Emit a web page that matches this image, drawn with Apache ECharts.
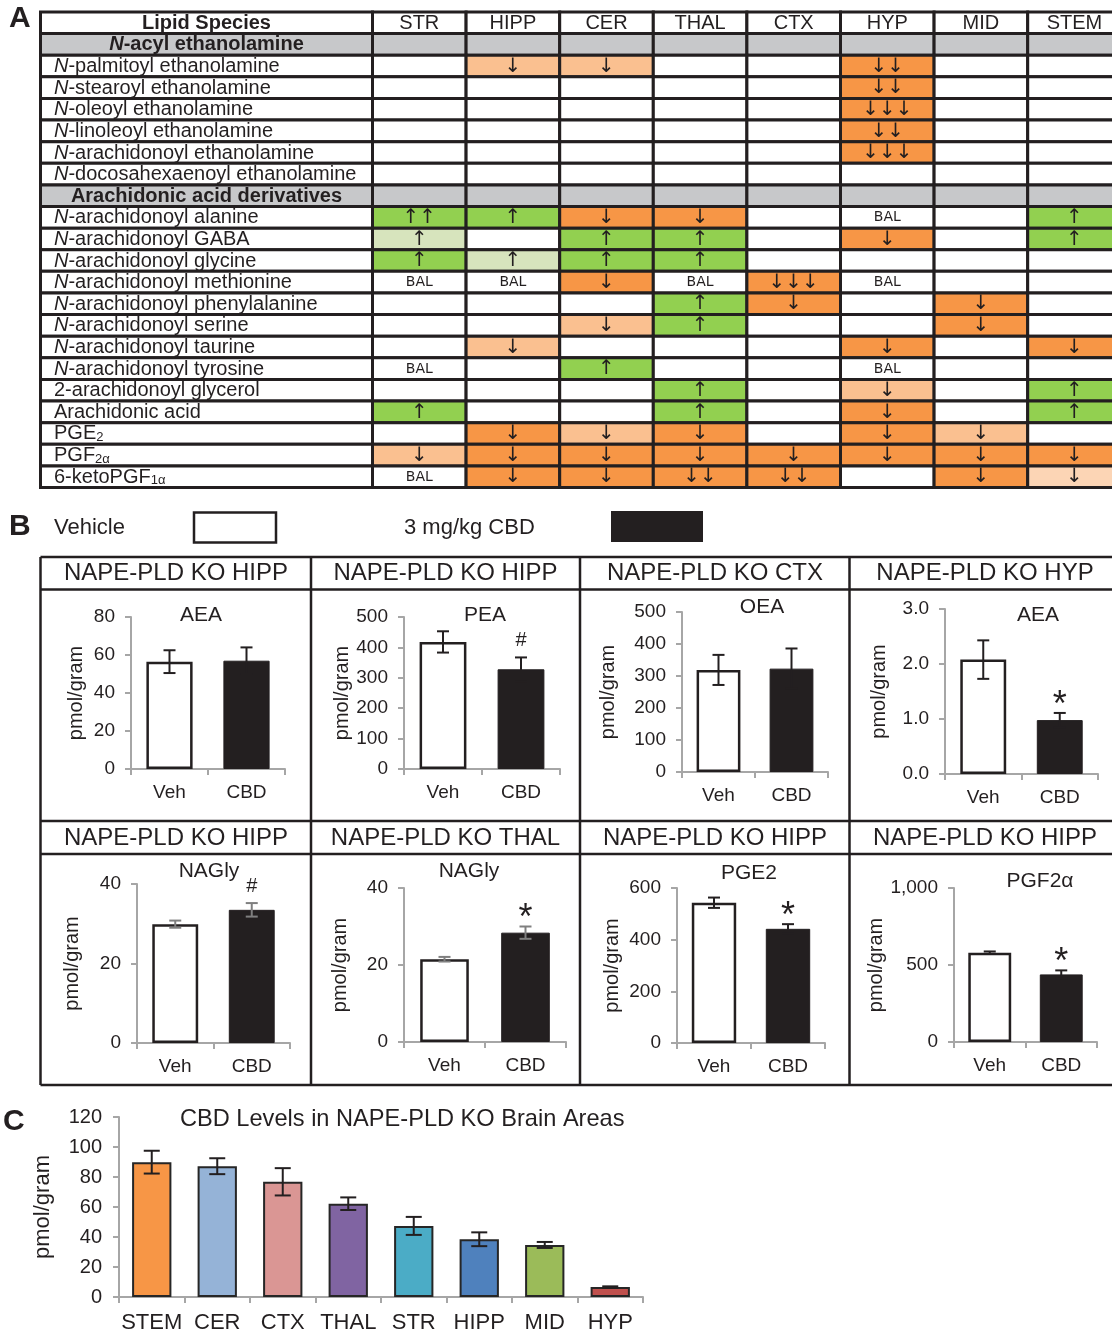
<!DOCTYPE html>
<html>
<head>
<meta charset="utf-8">
<title>NAPE-PLD KO lipid changes and CBD levels</title>
<script src="https://cdn.jsdelivr.net/npm/echarts@6.0.0/dist/echarts.min.js"></script>
</head>
<body style="margin:0;background:#fff">
<div id="main" style="width:1112px;height:1338px"></div>
<script type="text/javascript">
var FONT = '"Liberation Sans", Arial, Helvetica, sans-serif';
var INK = '#231f20';
var AXIS_GRAY = '#a6a6a6';

// ---------- panel A : direction of change per region ----------
var regions = ['STR', 'HIPP', 'CER', 'THAL', 'CTX', 'HYP', 'MID', 'STEM'];
var lipidRows = [
    'Lipid Species',
    'N-acyl ethanolamine',
    'N-palmitoyl ethanolamine',
    'N-stearoyl ethanolamine',
    'N-oleoyl ethanolamine',
    'N-linoleoyl ethanolamine',
    'N-arachidonoyl ethanolamine',
    'N-docosahexaenoyl ethanolamine',
    'Arachidonic acid derivatives',
    'N-arachidonoyl alanine',
    'N-arachidonoyl GABA',
    'N-arachidonoyl glycine',
    'N-arachidonoyl methionine',
    'N-arachidonoyl phenylalanine',
    'N-arachidonoyl serine',
    'N-arachidonoyl taurine',
    'N-arachidonoyl tyrosine',
    '2-arachidonoyl glycerol',
    'Arachidonic acid',
    'PGE_2',
    'PGF_2α',
    '6-ketoPGF_1α'
];
var sectionRows = ['N-acyl ethanolamine', 'Arachidonic acid derivatives'];
// O = strong decrease, o = decrease, p = weak decrease, G = strong increase, g = increase, B = BAL
// digit = number of arrows
var changes = [
    ['',   'o1', 'o1', '',   '',   'O2', '',   ''  ],
    ['',   '',   '',   '',   '',   'O2', '',   ''  ],
    ['',   '',   '',   '',   '',   'O3', '',   ''  ],
    ['',   '',   '',   '',   '',   'O2', '',   ''  ],
    ['',   '',   '',   '',   '',   'O3', '',   ''  ],
    ['',   '',   '',   '',   '',   '',   '',   ''  ],
    ['G2', 'G1', 'O1', 'O1', '',   'B',  '',   'G1'],
    ['g1', '',   'G1', 'G1', '',   'O1', '',   'G1'],
    ['G1', 'g1', 'G1', 'G1', '',   '',   '',   ''  ],
    ['B',  'B',  'O1', 'B',  'O3', 'B',  '',   ''  ],
    ['',   '',   '',   'G1', 'O1', '',   'O1', ''  ],
    ['',   '',   'o1', 'G1', '',   '',   'O1', ''  ],
    ['',   'o1', '',   '',   '',   'O1', '',   'O1'],
    ['B',  '',   'G1', '',   '',   'B',  '',   ''  ],
    ['',   '',   '',   'G1', '',   'o1', '',   'G1'],
    ['G1', '',   '',   'G1', '',   'O1', '',   'G1'],
    ['',   'O1', 'o1', 'O1', '',   'O1', 'o1', ''  ],
    ['o1', 'O1', 'O1', 'O1', 'O1', 'O1', 'O1', 'O1'],
    ['B',  'O1', 'O1', 'O2', 'O2', '',   'O1', 'p1']
];

// ---------- panel B : Veh vs CBD ----------
var bGroups = ['Veh', 'CBD'];
var bHeadings = ['NAPE-PLD KO HIPP', 'NAPE-PLD KO HIPP', 'NAPE-PLD KO CTX', 'NAPE-PLD KO HYP',
                 'NAPE-PLD KO HIPP', 'NAPE-PLD KO THAL', 'NAPE-PLD KO HIPP', 'NAPE-PLD KO HIPP'];
var bAnalytes = ['AEA', 'PEA', 'OEA', 'AEA', 'NAGly', 'NAGly', 'PGE2', 'PGF2α'];
var bMeans  = [[56.5, 57], [418, 328], [319, 323], [2.08, 0.98], [29.9, 33.5], [21.5, 28.4], [543, 442], [580, 439]];
var bErrors = [[6, 7], [35, 39], [47, 63], [0.35, 0.13], [0.9, 1.7], [0.6, 1.6], [20, 18], [8, 26]];
var bMarks  = [['', ''], ['', '#'], ['', ''], ['', '*'], ['', '#'], ['', '*'], ['', '*'], ['', '*']];
var bYMax  = [80, 500, 500, 3, 40, 40, 600, 1000];
var bYStep = [20, 100, 100, 1, 20, 20, 200, 500];

// ---------- panel C : CBD levels ----------
var cbdAreas  = ['STEM', 'CER', 'CTX', 'THAL', 'STR', 'HIPP', 'MID', 'HYP'];
var cbdMeans  = [89.9, 87.2, 76.8, 62.2, 47.4, 38.5, 34.7, 6.6];
var cbdErrors = [7.6, 5.3, 9.1, 4.2, 6.0, 4.6, 2.0, 0.5];

// styles / layout
var changeColors = {O: '#f79646', o: '#fac090', p: '#fcd5b5', G: '#92d050', g: '#d7e4bd', B: '#ffffff'};
var SECTION_GRAY = '#c7c8ca';
var cbdColors = ['#f79646', '#95b3d7', '#da9694', '#8064a2', '#4bacc6', '#4f81bd', '#9bbb59', '#c0504d'];
var COL_W = 93.6;   // width of one region column in panel A
var bLayout = [
    {left: 131, top: 617, width: 154, height: 152, nameGap: 45, titleX: 201, titleY: 617},
    {left: 404, top: 617, width: 156, height: 152, nameGap: 51, titleX: 485, titleY: 617},
    {left: 682, top: 612, width: 146, height: 160, nameGap: 64, titleX: 762, titleY: 609},
    {left: 945, top: 609, width: 153, height: 165, nameGap: 56, titleX: 1038, titleY: 617},
    {left: 137, top: 884, width: 153, height: 159, nameGap: 55, titleX: 209, titleY: 873},
    {left: 404, top: 888, width: 162, height: 154, nameGap: 54, titleX: 469, titleY: 873},
    {left: 677, top: 888, width: 148, height: 155, nameGap: 55, titleX: 749, titleY: 875},
    {left: 954, top: 888, width: 143, height: 154, nameGap: 63, titleX: 1040, titleY: 883}
];
var bErrColor = [INK, INK, INK, INK, '#7f7f7f', '#7f7f7f', INK, INK];

var bodyIndex = {};
(function () {
    var k = 0;
    lipidRows.forEach(function (n, i) {
        if (i > 0 && sectionRows.indexOf(n) < 0) bodyIndex[i] = k++;
    });
})();

var lipidRich = {
    t:  {fontSize: 20, fontFamily: FONT, fill: INK},
    i:  {fontSize: 20, fontFamily: FONT, fill: INK, fontStyle: 'italic'},
    s:  {fontSize: 13, fontFamily: FONT, fill: INK, verticalAlign: 'bottom'},
    b:  {fontSize: 20, fontFamily: FONT, fill: INK, fontWeight: 'bold'},
    bi: {fontSize: 20, fontFamily: FONT, fill: INK, fontWeight: 'bold', fontStyle: 'italic'}
};

function lipidText(name, bold) {
    var m = name.match(/^(.*)_(.*)$/);
    if (m) return '{t|' + m[1] + '}{s|' + m[2] + '}';
    if (name.indexOf('N-') === 0) return bold ? '{bi|N}{b|' + name.slice(1) + '}' : '{i|N}{t|' + name.slice(1) + '}';
    return bold ? '{b|' + name + '}' : '{t|' + name + '}';
}

function labelCell(r) {
    var name = lipidRows[r];
    if (r === 0) return {fill: '#ffffff', text: lipidText(name, true), center: true};
    if (sectionRows.indexOf(name) >= 0) return {fill: SECTION_GRAY, text: lipidText(name, true), center: true};
    return {fill: '#ffffff', text: lipidText(name, false), center: false};
}

function regionCell(r, c) {
    if (r === 0) return {fill: '#ffffff', text: regions[c], size: 20, family: FONT};
    if (sectionRows.indexOf(lipidRows[r]) >= 0) return {fill: SECTION_GRAY};
    var code = changes[bodyIndex[r]][c];
    if (!code) return {fill: '#ffffff'};
    if (code === 'B') return {fill: '#ffffff', text: 'BAL', size: 14, family: '"DejaVu Sans", sans-serif'};
    var level = code.charAt(0), n = +code.charAt(1);
    var arrow = (level === 'G' || level === 'g') ? '\u2191' : '\u2193';
    return {fill: changeColors[level], text: new Array(n + 1).join(arrow), size: 20, family: '"DejaVu Sans", sans-serif'};
}

function tableRenderer(isLabelCol) {
    return function (params, api) {
        var c = api.value(0), r = api.value(1);
        var p = api.coord([c, r]), s = api.size([1, 1]);
        var x0 = p[0] - s[0] / 2, y0 = p[1] - s[1] / 2;
        var cell = isLabelCol ? labelCell(r) : regionCell(r, c);
        var kids = [{
            type: 'rect',
            shape: {x: x0, y: y0, width: s[0], height: s[1]},
            style: {fill: cell.fill, stroke: INK, lineWidth: 3}
        }];
        if (cell.text) {
            var st = {
                text: cell.text, y: p[1] + 0.5, verticalAlign: 'middle', fill: INK
            };
            if (isLabelCol) {
                st.rich = lipidRich;
                st.x = cell.center ? p[0] : x0 + 13.5;
                st.align = cell.center ? 'center' : 'left';
            } else {
                st.x = p[0];
                st.align = 'center';
                st.fontSize = cell.size;
                st.fontFamily = cell.family;
            }
            kids.push({type: 'text', style: st});
        }
        return {type: 'group', children: kids};
    };
}

function errorRenderer(color, capW, lw, marks) {
    return function (params, api) {
        var x = api.value(0), m = api.value(1), e = api.value(2);
        var hi = api.coord([x, m + e]), lo = api.coord([x, m - e]);
        var ls = {stroke: color, lineWidth: lw};
        var kids = [
            {type: 'line', shape: {x1: hi[0], y1: hi[1], x2: lo[0], y2: lo[1]}, style: ls},
            {type: 'line', shape: {x1: hi[0] - capW / 2, y1: hi[1], x2: hi[0] + capW / 2, y2: hi[1]}, style: ls},
            {type: 'line', shape: {x1: lo[0] - capW / 2, y1: lo[1], x2: lo[0] + capW / 2, y2: lo[1]}, style: ls}
        ];
        var mk = marks ? marks[params.dataIndex] : '';
        if (mk) {
            kids.push({type: 'text', style: {
                text: mk, x: hi[0], y: mk === '*' ? hi[1] - 7 : hi[1] - 17,
                align: 'center', verticalAlign: 'middle', fill: INK,
                fontSize: mk === '*' ? 36 : 20, fontFamily: FONT
            }});
        }
        return {type: 'group', children: kids};
    };
}

var grids = [], xAxes = [], yAxes = [], series = [], titles = [];

// panel A grids
grids.push({left: 40.5, top: 12, width: 332, height: 475.5});
xAxes.push({gridIndex: 0, type: 'category', data: ['Lipid Species'], show: false});
yAxes.push({gridIndex: 0, type: 'category', data: lipidRows, inverse: true, show: false});
series.push({
    type: 'custom', xAxisIndex: 0, yAxisIndex: 0,
    renderItem: tableRenderer(true),
    data: lipidRows.map(function (n, i) { return [0, i]; })
});
// the last column runs past the right edge of the page, so the region axis is a value axis
// whose visible range ends partway through STEM
var regionGridW = 1112 - 372.5;
grids.push({left: 372.5, top: 12, width: regionGridW, height: 475.5});
xAxes.push({gridIndex: 1, type: 'value', min: -0.5, max: -0.5 + regionGridW / COL_W, show: false});
yAxes.push({gridIndex: 1, type: 'category', data: lipidRows, inverse: true, show: false});
var regionData = [];
lipidRows.forEach(function (n, r) {
    regions.forEach(function (g, c) { regionData.push([c, r]); });
});
series.push({
    type: 'custom', xAxisIndex: 1, yAxisIndex: 1, clip: false,
    renderItem: tableRenderer(false),
    data: regionData
});

// panel B small charts
bMeans.forEach(function (means, p) {
    var gi = grids.length, L = bLayout[p];
    grids.push({left: L.left, top: L.top, width: L.width, height: L.height});
    xAxes.push({
        gridIndex: gi, type: 'category', data: bGroups,
        axisLine: {lineStyle: {color: AXIS_GRAY, width: 2}},
        axisTick: {show: true, length: 6, lineStyle: {color: AXIS_GRAY, width: 2}},
        axisLabel: {color: INK, fontSize: 19, fontFamily: FONT, margin: 14}
    });
    yAxes.push({
        gridIndex: gi, type: 'value', min: 0, max: bYMax[p], interval: bYStep[p],
        axisLine: {show: true, lineStyle: {color: AXIS_GRAY, width: 2}},
        axisTick: {show: true, length: 6, lineStyle: {color: AXIS_GRAY, width: 2}},
        splitLine: {show: false},
        axisLabel: {
            color: INK, fontSize: 19, fontFamily: FONT, margin: 16,
            formatter: function (v) { return bYStep[p] === 1 ? v.toFixed(1) : v.toLocaleString('en-US'); }
        },
        name: 'pmol/gram', nameLocation: 'middle', nameRotate: 90, nameGap: L.nameGap,
        nameTextStyle: {color: INK, fontSize: 20, fontFamily: FONT}
    });
    series.push({
        type: 'bar', xAxisIndex: gi, yAxisIndex: gi, barWidth: '60%',
        data: means.map(function (v, k) {
            return {value: v, itemStyle: k === 0
                ? {color: '#ffffff', borderColor: INK, borderWidth: 2.5}
                : {color: INK, borderColor: INK, borderWidth: 1}};
        })
    });
    series.push({
        type: 'custom', xAxisIndex: gi, yAxisIndex: gi, z: 3,
        renderItem: errorRenderer(bErrColor[p], 12, 2, bMarks[p]),
        data: means.map(function (v, k) { return [k, v, bErrors[p][k]]; })
    });
    titles.push({
        text: bAnalytes[p], left: L.titleX, top: L.titleY - 12, textAlign: 'center', padding: 0,
        textStyle: {color: INK, fontSize: 21, fontWeight: 'normal', fontFamily: FONT}
    });
});

// panel C
var gc = grids.length;
grids.push({left: 119, top: 1117, width: 524, height: 180});
xAxes.push({
    gridIndex: gc, type: 'category', data: cbdAreas,
    axisLine: {lineStyle: {color: AXIS_GRAY, width: 2}},
    axisTick: {show: true, length: 6, lineStyle: {color: AXIS_GRAY, width: 2}},
    axisLabel: {color: INK, fontSize: 22, fontFamily: FONT, margin: 15, interval: 0}
});
yAxes.push({
    gridIndex: gc, type: 'value', min: 0, max: 120, interval: 20,
    axisLine: {show: true, lineStyle: {color: AXIS_GRAY, width: 2}},
    axisTick: {show: true, length: 6, lineStyle: {color: AXIS_GRAY, width: 2}},
    splitLine: {show: false},
    axisLabel: {color: INK, fontSize: 20, fontFamily: FONT, margin: 17},
    name: 'pmol/gram', nameLocation: 'middle', nameRotate: 90, nameGap: 65,
    nameTextStyle: {color: INK, fontSize: 22, fontFamily: FONT}
});
series.push({
    type: 'bar', xAxisIndex: gc, yAxisIndex: gc, barWidth: '60%',
    data: cbdMeans.map(function (v, k) {
        return {value: v, itemStyle: {color: cbdColors[k], borderColor: '#262626', borderWidth: 2}};
    })
});
series.push({
    type: 'custom', xAxisIndex: gc, yAxisIndex: gc, z: 3,
    renderItem: errorRenderer(INK, 16, 2, null),
    data: cbdMeans.map(function (v, k) { return [k, v, cbdErrors[k]]; })
});
titles.push({
    text: 'CBD Levels in NAPE-PLD KO Brain Areas', left: 180, top: 1107, padding: 0,
    textStyle: {color: INK, fontSize: 23.6, fontWeight: 'normal', fontFamily: FONT}
});

// frame, headings, panel letters and the group key
var graphics = [];
function gText(t, x, y, size, bold, align) {
    graphics.push({type: 'text', x: x, y: y, style: {
        text: t, fill: INK, fontSize: size, fontFamily: FONT, fontWeight: bold ? 'bold' : 'normal',
        align: align || 'left', textAlign: align || 'left', verticalAlign: 'middle', textVerticalAlign: 'middle'
    }});
}
function gLine(x1, y1, x2, y2) {
    graphics.push({type: 'line', shape: {x1: x1, y1: y1, x2: x2, y2: y2}, style: {stroke: INK, lineWidth: 2.5}});
}
gText('A', 9, 19, 30, true);
gText('B', 9, 527, 30, true);
gText('C', 3, 1122, 30, true);
gText('Vehicle', 54, 528, 22, false);
graphics.push({type: 'rect', shape: {x: 194, y: 512.5, width: 82, height: 30}, style: {fill: '#fff', stroke: INK, lineWidth: 2.5}});
gText('3 mg/kg CBD', 404, 528, 22, false);
graphics.push({type: 'rect', shape: {x: 611, y: 511, width: 92, height: 31}, style: {fill: INK}});
gLine(40.5, 557, 1125, 557);
gLine(40.5, 589.5, 1125, 589.5);
gLine(40.5, 821, 1125, 821);
gLine(40.5, 854, 1125, 854);
gLine(40.5, 1085, 1125, 1085);
[40.5, 311, 580, 849.5].forEach(function (x) { gLine(x, 557, x, 1085); });
var colCenters = [176, 445.5, 715, 985];
bHeadings.forEach(function (h, p) {
    gText(h, colCenters[p % 4], p < 4 ? 573 : 838, 24, false, 'center');
});

var chart = echarts.init(document.getElementById('main'));
chart.setOption({
    animation: false,
    backgroundColor: '#ffffff',
    textStyle: {fontFamily: FONT},
    title: titles,
    grid: grids,
    xAxis: xAxes,
    yAxis: yAxes,
    series: series,
    graphic: graphics
});
</script>
</body>
</html>
